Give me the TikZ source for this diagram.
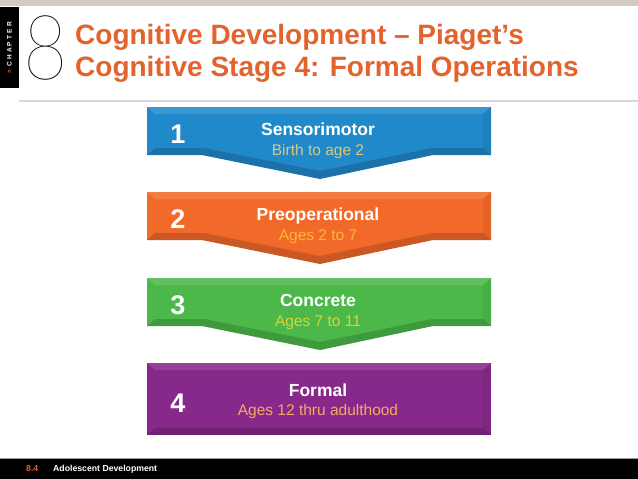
\documentclass[tikz,border=0pt]{standalone}
\usepackage{fontspec}
\setmainfont{Liberation Sans}
\newfontfamily\thinfont{Lato Hairline}
\usepackage{xcolor}
\definecolor{headtan}{HTML}{D2CCBF}
\definecolor{titleorange}{HTML}{E4632D}
\definecolor{stblue}{HTML}{2089C9}
\definecolor{storange}{HTML}{F26A2A}
\definecolor{stgreen}{HTML}{4CB84A}
\definecolor{stpurple}{HTML}{87298B}
\definecolor{subblue}{HTML}{D8C77E}
\definecolor{suborange}{HTML}{FDB53C}
\definecolor{subgreen}{HTML}{D8D33A}
\definecolor{subpurple}{HTML}{F6A866}
\usetikzlibrary{positioning}
\tikzset{
  headline/.style={anchor=base west, text=titleorange, inner sep=0pt,
                   font=\bfseries\fontsize{28}{32}\selectfont},
  stnum/.style={text=white, inner sep=0pt, font=\bfseries\fontsize{27}{27}\selectfont},
  sttitle/.style={anchor=base, text=white, inner sep=0pt, font=\bfseries\fontsize{17.5}{18}\selectfont},
  stsub/.style={anchor=base, inner sep=0pt, font=\fontsize{15.5}{16}\selectfont},
  bevlight/.style={fill=white, opacity=.12},
  bevdark/.style={fill=black, opacity=.16},
  foot/.style={anchor=base west, inner sep=0pt, font=\bfseries\fontsize{8.7}{9}\selectfont},
}

\begin{document}
\begin{tikzpicture}[x=1pt, y=-1pt]
  \useasboundingbox (0,0) rectangle (638,479);
  \fill[white] (0,0) rectangle (638,479);

  % header
  \fill[headtan] (0,0) rectangle (638,6);
  \fill[black] (0,7) rectangle (19,88);
  \node[rotate=90, text=white, inner sep=0pt, font=\bfseries\fontsize{6.5}{7}\selectfont]
    (chap) at (9.5,48) {{\color{titleorange}>}\,\,\,C\,\,H\,\,A\,\,P\,\,T\,\,E\,\,R};
  \node[inner sep=0pt, font=\thinfont\fontsize{90}{90}\selectfont] (bignum) at (46,48) {\scalebox{0.85}[1]{8}};
  \node[headline] (head1) at (75,44) {Cognitive Development – Piaget’s};
  \node[headline] (head2) at (75,76) {Cognitive Stage 4: Formal Operations};
  \draw[black!15, line width=1.5pt] (19,101) -- (638,101);

  % stages 1-3, chevrons
  \foreach \i/\ytop/\col/\subcol/\name/\ages in {
      1/107/stblue/subblue/Sensorimotor/Birth to age 2,
      2/192/storange/suborange/Preoperational/Ages 2 to 7,
      3/278/stgreen/subgreen/Concrete/Ages 7 to 11} {
    \fill[\col] (147,\ytop) -- (491,\ytop) -- (491,\ytop+48) -- (433,\ytop+48)
      -- (320,\ytop+72) -- (202,\ytop+48) -- (147,\ytop+48) -- cycle;
    \fill[bevlight] (147,\ytop) -- (491,\ytop) -- (483,\ytop+7) -- (155,\ytop+7) -- cycle;
    \fill[black, opacity=.06] (491,\ytop) -- (491,\ytop+48) -- (483,\ytop+41) -- (483,\ytop+7) -- cycle;
    \fill[bevdark] (147,\ytop+48) -- (202,\ytop+48) -- (320,\ytop+72) -- (433,\ytop+48)
      -- (491,\ytop+48) -- (483,\ytop+41) -- (432,\ytop+41) -- (320,\ytop+64)
      -- (204,\ytop+41) -- (155,\ytop+41) -- cycle;
    \node[stnum] (n\i) at (178,\ytop+27) {\i};
    \node[sttitle] (t\i) at (318,\ytop+28) {\name};
    \node[stsub, text=\subcol] (s\i) at (318,\ytop+48) {\ages};
  }

  % stage 4, plain box
  \fill[stpurple] (147,363) rectangle (491,435);
  \fill[bevlight] (147,363) -- (491,363) -- (483,370) -- (155,370) -- cycle;
  \fill[black, opacity=.06] (491,363) -- (491,435) -- (483,428) -- (483,370) -- cycle;
  \fill[bevdark] (147,435) -- (491,435) -- (483,428) -- (155,428) -- cycle;
  \node[stnum] (n4) at (178,403) {4};
  \node[sttitle] (t4) at (318,396) {Formal};
  \node[stsub, text=subpurple] (s4) at (318,415) {Ages 12 thru adulthood};

  % footer
  \fill[black!40] (0,457.5) rectangle (638,459);
  \fill[black] (0,459) rectangle (638,479);
  \node[foot, text=titleorange] (fnum) at (26,471) {8.4};
  \node[foot, text=white] (ftext) at (53,471) {Adolescent Development};
\end{tikzpicture}
\end{document}
